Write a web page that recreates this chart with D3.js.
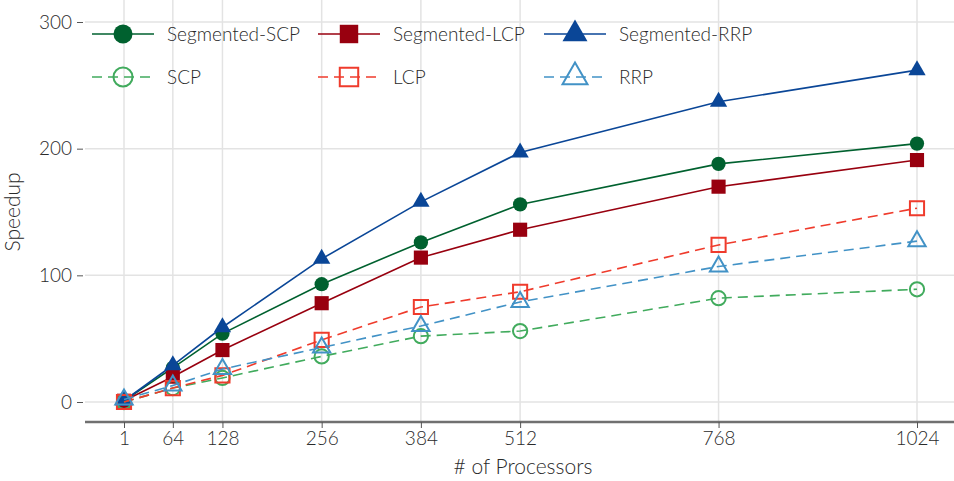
<!DOCTYPE html>
<html>
<head>
<meta charset="utf-8">
<script src="https://cdn.jsdelivr.net/npm/d3@7"></script>
<style>
  html, body { margin: 0; padding: 0; background: #fff; }
  svg text { font-family: Lato, "Open Sans", sans-serif; font-weight: 300; fill: #2a2a2a; }
</style>
</head>
<body>
<svg id="chart" width="954" height="481"></svg>
<script>
// Processor counts on the x axis
const processors = [1, 64, 128, 256, 384, 512, 768, 1024];
const yTicks = [0, 100, 200, 300];

// Speedup per configuration
const segmentedSCP = [1, 27, 54, 93, 126, 156, 188, 204];
const segmentedLCP = [1, 20, 41, 78, 114, 136, 170, 191];
const segmentedRRP = [1, 29, 59, 113, 158, 197, 237, 262];
const scp = [0, 11, 19, 36, 52, 56, 82, 89];
const lcp = [0, 11, 21, 49, 75, 87, 124, 153];
const rrp = [2, 13, 26, 43, 60, 79, 107, 127];

const seriesNames = ["Segmented-SCP", "Segmented-LCP", "Segmented-RRP", "SCP", "LCP", "RRP"];
const seriesValues = [segmentedSCP, segmentedLCP, segmentedRRP, scp, lcp, rrp];

const styles = [
  { color: "#00612f", shape: "circle",   filled: true,  dashed: false },
  { color: "#98000f", shape: "square",   filled: true,  dashed: false },
  { color: "#0a4697", shape: "triangle", filled: true,  dashed: false },
  { color: "#41ab5d", shape: "circle",   filled: false, dashed: true },
  { color: "#ef3b2c", shape: "square",   filled: false, dashed: true },
  { color: "#4292c6", shape: "triangle", filled: false, dashed: true }
];

// Symbol areas for plot markers and legend markers
const markerArea = { circle: 160, square: 200, triangle: 130 };
const legendArea = { circle: 285, square: 340, triangle: 270 };

const svg = d3.select("#chart");
const x = d3.scaleLinear().domain([1, 1024]).range([124, 917]);
const y = d3.scaleLinear().domain([0, 300]).range([402, 22]);
const plotLeft = 85, plotRight = 954, plotTop = 0, axisY = 422;

// Grid
const grid = svg.append("g");
grid.selectAll(".vg").data(processors).join("line")
  .attr("x1", d => x(d)).attr("x2", d => x(d))
  .attr("y1", plotTop).attr("y2", axisY)
  .attr("stroke", "#e3e3e3").attr("stroke-width", 1.5);
grid.selectAll(".hg").data(yTicks).join("line")
  .attr("x1", plotLeft).attr("x2", plotRight)
  .attr("y1", d => y(d)).attr("y2", d => y(d))
  .attr("stroke", "#e3e3e3").attr("stroke-width", 1.5);

// Y axis (ticks and labels only)
const yAxis = svg.append("g").attr("transform", `translate(${plotLeft - 2},0)`)
  .call(d3.axisLeft(y).tickValues(yTicks).tickSize(6).tickPadding(5));
yAxis.select(".domain").remove();
yAxis.selectAll(".tick line").attr("stroke", "#555");
yAxis.selectAll(".tick text").style("font-size", "19px").attr("fill", "#2a2a2a");

// X axis
const xAxis = svg.append("g").attr("transform", `translate(0,${axisY})`)
  .call(d3.axisBottom(x).tickValues(processors).tickFormat(d3.format("d"))
    .tickSize(6).tickPadding(4).tickSizeOuter(0));
xAxis.select(".domain").attr("d", `M${plotLeft},0H${plotRight}`).attr("stroke", "#707070").attr("stroke-width", 2.5);
xAxis.selectAll(".tick line").attr("stroke", "#555");
xAxis.selectAll(".tick text").style("font-size", "19px").attr("fill", "#2a2a2a");

// Axis titles
svg.append("text").attr("x", 523).attr("y", 474).attr("text-anchor", "middle")
  .style("font-size", "21px").text("# of Processors");
svg.append("text").attr("transform", "translate(20,212) rotate(-90)").attr("text-anchor", "middle")
  .style("font-size", "21px").text("Speedup");

function drawMarker(sel, st, areas) {
  const type = st.shape === "circle" ? d3.symbolCircle : st.shape === "square" ? d3.symbolSquare : d3.symbolTriangle;
  sel.append("path")
    .attr("d", d3.symbol().type(type).size(areas[st.shape])())
    .attr("fill", st.filled ? st.color : "none")
    .attr("stroke", st.filled ? "none" : st.color)
    .attr("stroke-width", 2);
}

const line = d3.line().x((d, i) => x(processors[i])).y(d => y(d));

// Series lines and markers
seriesValues.forEach((vals, k) => {
  const st = styles[k];
  const g = svg.append("g");
  g.append("path").attr("d", line(vals))
    .attr("fill", "none").attr("stroke", st.color).attr("stroke-width", 1.6)
    .attr("stroke-dasharray", st.dashed ? "10,6" : null);
  vals.forEach((v, i) => {
    const m = g.append("g").attr("transform", `translate(${x(processors[i])},${y(v)})`);
    drawMarker(m, st, markerArea);
  });
});

// Legend
const legendCols = [92, 318, 544];
const legendRows = [34, 77];
seriesNames.forEach((name, k) => {
  const st = styles[k];
  const lx = legendCols[k % 3], ly = legendRows[Math.floor(k / 3)];
  const g = svg.append("g").attr("transform", `translate(${lx},${ly})`);
  g.append("line").attr("x1", 0).attr("x2", 62).attr("y1", 0).attr("y2", 0)
    .attr("stroke", st.color).attr("stroke-width", 1.6)
    .attr("stroke-dasharray", st.dashed ? "10,6" : null);
  const m = g.append("g").attr("transform", "translate(31,0)");
  drawMarker(m, st, legendArea);
  g.append("text").attr("x", 75).attr("y", 0).attr("dy", "0.35em")
    .style("font-size", "19px").text(name);
});
</script>
</body>
</html>
